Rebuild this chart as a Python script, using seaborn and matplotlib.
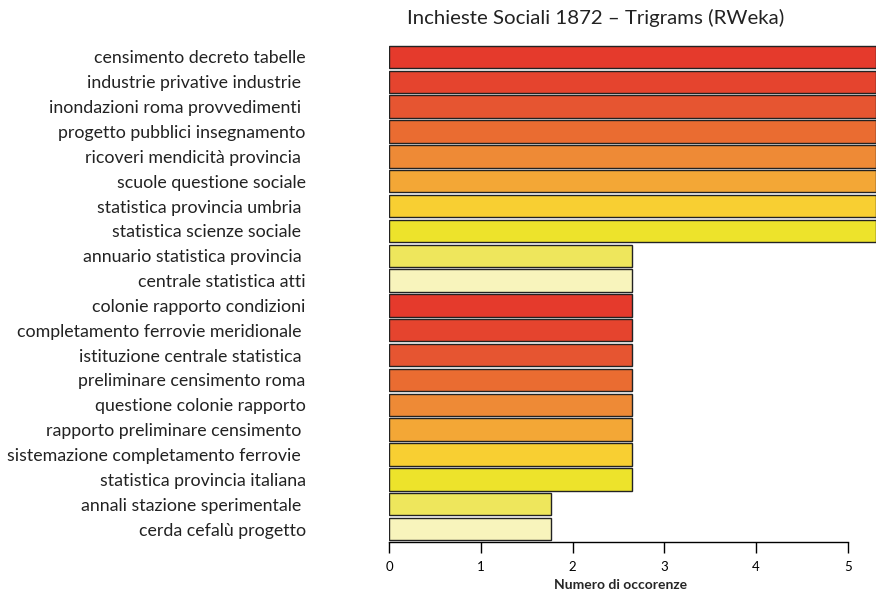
import seaborn as sns
import matplotlib.pyplot as plt
import pandas as pd

trigrams = [
    "censimento decreto tabelle", "industrie privative industrie ",
    "inondazioni roma provvedimenti ", "progetto pubblici insegnamento",
    "ricoveri mendicità provincia ", "scuole questione sociale",
    "statistica provincia umbria ", "statistica scienze sociale ",
    "annuario statistica provincia ", "centrale statistica atti",
    "colonie rapporto condizioni", "completamento ferrovie meridionale ",
    "istituzione centrale statistica ", "preliminare censimento roma",
    "questione colonie rapporto", "rapporto preliminare censimento ",
    "sistemazione completamento ferrovie ", "statistica provincia italiana",
    "annali stazione sperimentale ", "cerda cefalù progetto",
]
occorrenze = [5.3] * 8 + [2.65] * 10 + [1.77] * 2

# heat-like palette, recycled every 10 bars
heat = ["#E53A2C", "#E5442E", "#E65531", "#EA6C31", "#EE8A36",
        "#F3A736", "#F8CF32", "#EDE32B", "#EEE65C", "#F8F4BC"]
colors = [heat[i % len(heat)] for i in range(len(trigrams))]

df = pd.DataFrame({"trigram": trigrams, "n": occorrenze})

sns.set_style("white")
plt.rcParams["font.family"] = ["Lato", "DejaVu Sans"]

fig = plt.figure(figsize=(8.77, 5.91), dpi=100)
ax = fig.add_axes([389 / 877, 1 - 542 / 591, 487 / 877, 498 / 591])

sns.barplot(data=df, y="trigram", x="n", hue="trigram", palette=colors,
            legend=False, width=0.9, edgecolor="#222222", linewidth=1.0,
            saturation=1, ax=ax)

ax.set_xlim(0, 487 / 91.8)
ax.set_ylim(19.52, -0.52)
for s in ["top", "right", "left"]:
    ax.spines[s].set_visible(False)
ax.spines["bottom"].set_bounds(0, 5)
ax.spines["bottom"].set_color("black")
ax.spines["bottom"].set_linewidth(1.0)
ax.set_xticks(range(6))
ax.tick_params(axis="x", bottom=True, direction="out", length=8, width=1.0,
               labelsize=9.5, colors="black", pad=6)
ax.tick_params(axis="y", length=0, pad=60, labelsize=12.8, labelcolor="#222222")

ax.set_ylabel("")
ax.set_xlabel("Numero di occorenze", fontsize=10, fontweight="bold")
ax.xaxis.set_label_coords((621 - 389) / 487, -0.075)

fig.text(596 / 877, 1 - 18 / 591, "Inchieste Sociali 1872 – Trigrams (RWeka)",
         ha="center", va="center", fontsize=14.7, color="#222222")

fig.savefig("out.png", dpi=100)
